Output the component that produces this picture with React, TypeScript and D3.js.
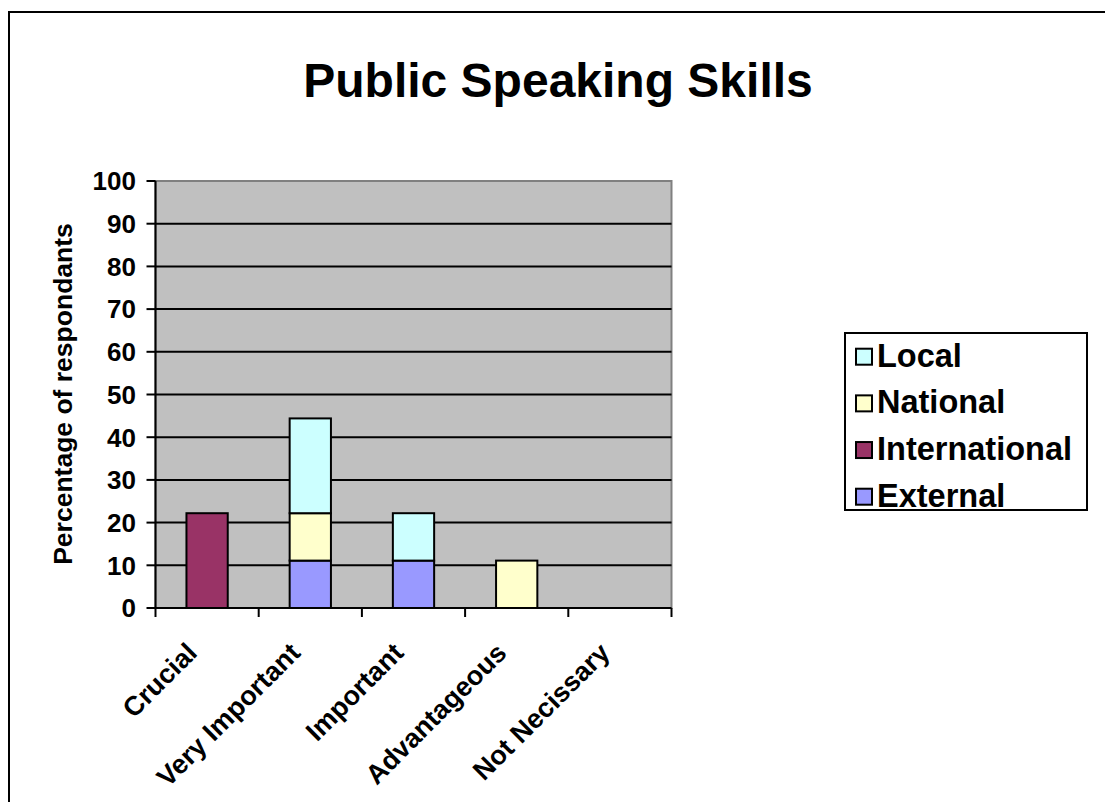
import React from "react";
import * as d3 from "d3";

const categories = ["Crucial", "Very Important", "Important", "Advantageous", "Not Necissary"];
const seriesNames = ["External", "International", "National", "Local"];
const external = [0, 11.1, 11.1, 0, 0];
const international = [22.2, 0, 0, 0, 0];
const national = [0, 11.1, 0, 11.1, 0];
const local = [0, 22.2, 11.1, 0, 0];
const yTicks = [0, 10, 20, 30, 40, 50, 60, 70, 80, 90, 100];
const colors: Record<string, string> = {
  External: "#9999FF",
  International: "#993366",
  National: "#FFFFCC",
  Local: "#CCFFFF",
};

const W = 1105;
const H = 802;
const FONT = "'Liberation Sans', Arial, Helvetica, sans-serif";

export default function App() {
  const left = 155.5, right = 671.5, top = 181, bottom = 608;
  const x = d3.scaleBand<string>().domain(categories).range([left, right]).paddingInner(0.6).paddingOuter(0.3);
  const y = d3.scaleLinear().domain([0, 100]).range([bottom, top]);

  const rows = categories.map((c, i) => ({
    cat: c,
    External: external[i],
    International: international[i],
    National: national[i],
    Local: local[i],
  }));
  const stacked = d3.stack<any>().keys(seriesNames)(rows);
  const step = x.step();
  const tickXs = d3.range(categories.length + 1).map((i) => left + i * step);

  const legendItems = [...seriesNames].reverse();

  return (
    <div style={{ position: "absolute", left: 0, top: 0 }}>
      <svg width={W} height={H} style={{ display: "block", background: "#fff" }} fontFamily={FONT}>
        <rect x={9} y={12} width={1200} height={1000} fill="#fff" stroke="#000" strokeWidth={2} />
        <text x={558} y={97} textAnchor="middle" fontSize={48} fontWeight="bold">
          Public Speaking Skills
        </text>
        {/* plot area */}
        <rect x={left} y={top} width={right - left} height={bottom - top} fill="#C0C0C0" stroke="#808080" strokeWidth={2} />
        {yTicks.filter((t) => t > 0 && t < 100).map((t) => (
          <line key={"g" + t} x1={left} x2={right} y1={y(t)} y2={y(t)} stroke="#000" strokeWidth={2} />
        ))}
        {/* bars */}
        {stacked.map((s) => (
          <g key={s.key}>
            {s.map((d, i) =>
              d[1] - d[0] > 0 ? (
                <rect
                  key={i}
                  x={x(categories[i])}
                  y={y(d[1])}
                  width={x.bandwidth()}
                  height={y(d[0]) - y(d[1])}
                  fill={colors[s.key]}
                  stroke="#000"
                  strokeWidth={2}
                />
              ) : null
            )}
          </g>
        ))}
        {/* axes */}
        <line x1={left} x2={left} y1={top} y2={bottom} stroke="#000" strokeWidth={2} />
        <line x1={left} x2={right} y1={bottom} y2={bottom} stroke="#000" strokeWidth={2} />
        {yTicks.map((t) => (
          <g key={"t" + t}>
            <line x1={left - 9} x2={left} y1={y(t)} y2={y(t)} stroke="#000" strokeWidth={2} />
            <text x={136} y={y(t)} dy="0.36em" textAnchor="end" fontSize={26} fontWeight="bold">
              {t}
            </text>
          </g>
        ))}
        {tickXs.map((tx, i) => (
          <line key={"x" + i} x1={tx} x2={tx} y1={bottom} y2={bottom + 9} stroke="#000" strokeWidth={2} />
        ))}
        {categories.map((c) => (
          <text
            key={c}
            transform={`translate(${(x(c) as number) + x.bandwidth() / 2 - 8.5},${654.5}) rotate(-45)`}
            textAnchor="end"
            fontSize={27}
            fontWeight="bold"
          >
            {c}
          </text>
        ))}
        <text transform={`translate(72,394) rotate(-90)`} textAnchor="middle" fontSize={26.5} fontWeight="bold">
          Percentage of respondants
        </text>
        {/* legend */}
        <rect x={845} y={333} width={242} height={177} fill="#fff" stroke="#000" strokeWidth={2} />
        {legendItems.map((k, i) => {
          const base = 366.7 + i * 46.67;
          return (
            <g key={k}>
              <rect x={856} y={base - 18} width={16} height={16} fill={colors[k]} stroke="#000" strokeWidth={2} />
              <text x={877} y={base} fontSize={32.5} fontWeight="bold">
                {k}
              </text>
            </g>
          );
        })}
      </svg>
    </div>
  );
}
